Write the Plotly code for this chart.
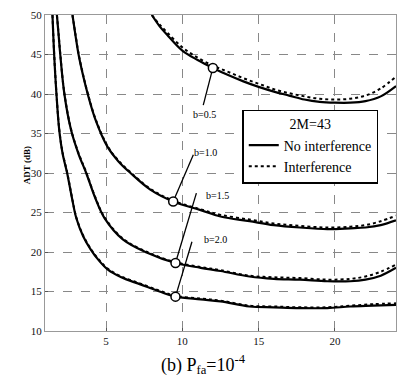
import plotly.graph_objects as go

# ---- data ----
b05_x = [8.0, 8.5, 9.0, 10.0, 11.0, 12.0, 13.0, 14.0, 15.0, 16.0, 17.0, 18.0, 19.0, 20.0, 21.0, 22.0, 23.0, 24.0]
b05_no = [50.0, 48.6, 47.5, 45.5, 44.3, 43.3, 42.4, 41.6, 40.9, 40.3, 39.8, 39.3, 39.0, 38.9, 38.9, 39.1, 39.7, 41.0]
b05_in = [50.0, 48.8, 47.8, 45.9, 44.6, 43.6, 42.8, 42.0, 41.3, 40.6, 40.1, 39.7, 39.4, 39.3, 39.4, 39.8, 40.7, 42.2]

b10_x = [2.8, 3.0, 3.2, 3.5, 3.8, 4.3, 5.1, 5.8, 6.6, 7.9, 9.4, 11.2, 12.5, 14.4, 16.0, 17.7, 19.5, 21.0, 22.0, 23.0, 24.0]
b10_no = [50.0, 47.4, 45.0, 42.3, 40.0, 36.8, 33.3, 31.5, 30.0, 27.9, 26.4, 25.3, 24.5, 23.9, 23.4, 23.1, 22.9, 23.0, 23.1, 23.4, 24.0]
b10_in = [50.0, 47.5, 45.1, 42.4, 40.1, 36.9, 33.4, 31.6, 30.1, 28.0, 26.5, 25.4, 24.7, 24.1, 23.6, 23.3, 23.1, 23.2, 23.4, 23.9, 24.6]

b15_x = [1.78, 1.9, 2.0, 2.27, 2.7, 3.2, 3.7, 4.3, 4.9, 6.1, 7.7, 9.55, 11.2, 12.5, 14.4, 16.0, 17.7, 19.5, 21.0, 22.0, 23.0, 24.0]
b15_no = [50.0, 47.3, 45.0, 40.0, 35.5, 32.4, 30.0, 26.8, 24.3, 21.6, 19.9, 18.6, 18.0, 17.6, 16.9, 16.6, 16.5, 16.3, 16.3, 16.5, 17.0, 18.0]
b15_in = [50.0, 47.4, 45.1, 40.1, 35.6, 32.5, 30.1, 26.9, 24.4, 21.7, 20.0, 18.7, 18.1, 17.7, 17.0, 16.8, 16.7, 16.5, 16.6, 16.9, 17.5, 18.4]

b20_x = [1.49, 1.6, 1.75, 1.93, 2.15, 2.45, 2.75, 3.05, 3.5, 4.0, 4.5, 5.1, 6.0, 7.25, 8.5, 9.55, 11.2, 12.5, 14.4, 16.0, 17.7, 19.5, 21.0, 22.5, 24.0]
b20_no = [50.0, 45.0, 40.0, 35.5, 32.5, 30.0, 27.0, 24.3, 22.0, 20.3, 19.0, 17.8, 16.8, 15.9, 15.0, 14.35, 14.0, 13.75, 13.1, 13.0, 12.9, 12.9, 13.1, 13.2, 13.3]
b20_in = [50.0, 45.1, 40.1, 35.6, 32.6, 30.1, 27.1, 24.4, 22.1, 20.4, 19.1, 17.9, 16.9, 16.0, 15.1, 14.45, 14.1, 13.85, 13.2, 13.1, 13.0, 13.0, 13.2, 13.4, 13.5]

mark_x = [12.0, 9.4, 9.55, 9.55]
mark_y = [43.3, 26.4, 18.6, 14.35]

labels = ["b=0.5", "b=1.0", "b=1.5", "b=2.0"]
label_x = [11.44, 11.5, 12.29, 12.16]
label_y = [37.36, 32.55, 27.2, 21.55]
leader_x = [11.37, 10.72, 10.92, 10.63]
leader_y = [38.6, 32.3, 27.45, 21.3]

x_ticks = [5, 10, 15, 20]
y_ticks = [10, 15, 20, 25, 30, 35, 40, 45, 50]

SERIF = "Liberation Serif"

fig = go.Figure()

curves = [(b05_x, b05_no, b05_in), (b10_x, b10_no, b10_in),
          (b15_x, b15_no, b15_in), (b20_x, b20_no, b20_in)]
for i, (xs, yn, yi) in enumerate(curves):
    fig.add_trace(go.Scatter(x=xs, y=yn, mode="lines", line=dict(color="black", width=2.2),
                             name="No interference", legendgroup="no", showlegend=(i == 0),
                             line_shape="spline"))
    fig.add_trace(go.Scatter(x=xs, y=yi, mode="lines", line=dict(color="black", width=2, dash="dot"),
                             name="Interference", legendgroup="in", showlegend=(i == 0),
                             line_shape="spline"))

# leader lines
for lx, ly, mx, my in zip(leader_x, leader_y, mark_x, mark_y):
    fig.add_trace(go.Scatter(x=[lx, mx], y=[ly, my], mode="lines",
                             line=dict(color="black", width=1.3), showlegend=False, hoverinfo="skip"))

fig.add_trace(go.Scatter(x=mark_x, y=mark_y, mode="markers",
                         marker=dict(symbol="circle", size=9, color="white",
                                     line=dict(color="black", width=1.5)),
                         showlegend=False))

for t, x, y in zip(labels, label_x, label_y):
    fig.add_annotation(x=x, y=y, text=t, showarrow=False,
                       font=dict(family=SERIF, size=10, color="black"))

fig.add_annotation(x=-0.071, y=0.525, xref="paper", yref="paper", text="<b>ADT (dB)</b>",
                   textangle=-90, showarrow=False, font=dict(family=SERIF, size=9, color="black"))
fig.add_annotation(x=0.451, y=-0.06, xref="paper", yref="paper", yanchor="top",
                   text="(b) P<sub>fa</sub>=10<sup>-4</sup>", showarrow=False,
                   font=dict(family=SERIF, size=18, color="black"))

axis_common = dict(showgrid=True, gridcolor="#888", griddash="dash", gridwidth=1,
                   showline=True, linecolor="#999", linewidth=1, mirror=True,
                   ticks="inside", ticklen=3, tickcolor="#555",
                   tickfont=dict(family=SERIF, size=11, color="#111"), zeroline=False)

fig.update_xaxes(range=[1, 24], tickvals=x_ticks, ticktext=[str(v) for v in x_ticks], **axis_common)
fig.update_yaxes(range=[10, 50], tickvals=y_ticks, ticktext=[str(v) for v in y_ticks], **axis_common)

fig.update_layout(
    width=397, height=383,
    margin=dict(l=45, r=1, t=15, b=52),
    plot_bgcolor="white", paper_bgcolor="white",
    legend=dict(x=0.562, y=0.70, xanchor="left", yanchor="top",
                bgcolor="white", bordercolor="black", borderwidth=1.5,
                font=dict(family=SERIF, size=14, color="black"),
                title=dict(text="2M=43", side="top center",
                           font=dict(family=SERIF, size=14, color="black")),
                tracegroupgap=0),
)

fig.write_html("out.html")
